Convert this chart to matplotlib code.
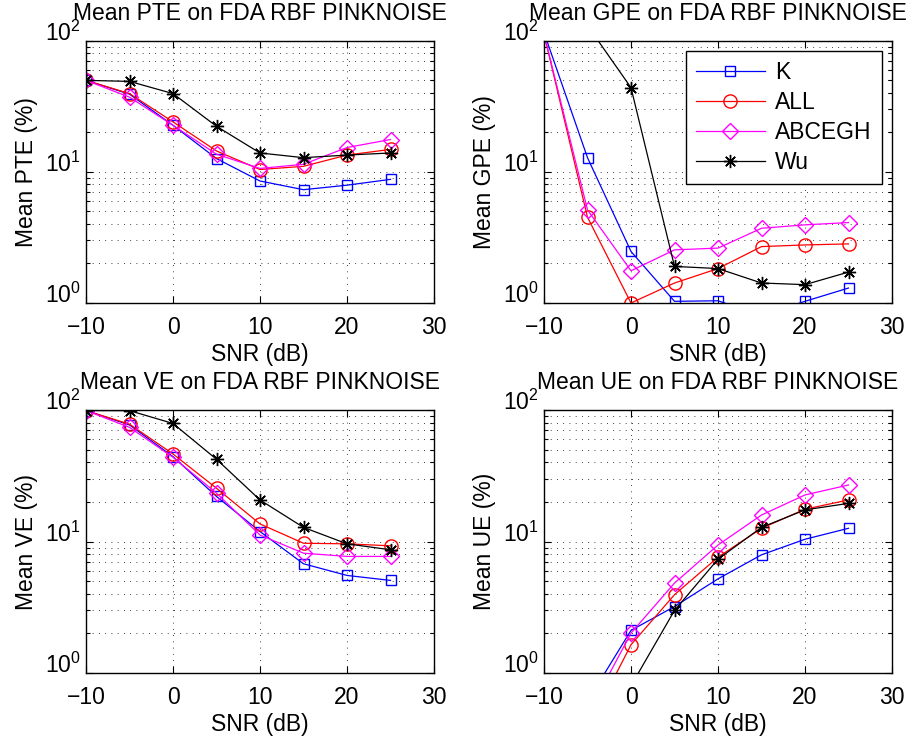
import matplotlib
matplotlib.use("Agg")
import matplotlib.pyplot as plt
from matplotlib.ticker import LogLocator, NullFormatter, FixedLocator

plt.rcParams['font.family'] = ['Liberation Sans', 'DejaVu Sans']
plt.rcParams['mathtext.fontset'] = 'custom'
plt.rcParams['mathtext.rm'] = 'Liberation Sans'
plt.rcParams['mathtext.it'] = 'Liberation Sans'

snr = [-10, -5, 0, 5, 10, 15, 20, 25]
methods = ["K", "ALL", "ABCEGH", "Wu"]

pte_k = [49.7, 39.0, 22.6, 12.6, 8.5, 7.3, 7.9, 8.75]
pte_all = [49.7, 39.4, 24.0, 14.4, 10.4, 11.0, 13.4, 14.8]
pte_abcegh = [49.7, 37.0, 22.6, 13.6, 10.6, 11.4, 15.3, 17.6]
pte_wu = [49.7, 48.8, 39.4, 22.2, 13.9, 12.8, 13.4, 13.9]

gpe_k = [115, 12.8, 2.47, 1.03, 1.04, 0.8, 1.03, 1.30]
gpe_all = [112, 4.5, 1.0, 1.42, 1.83, 2.69, 2.77, 2.82]
gpe_abcegh = [112, 5.12, 1.76, 2.54, 2.62, 3.71, 3.94, 4.1]
gpe_wu = [200, 130, 43.7, 1.90, 1.83, 1.42, 1.38, 1.72]

ve_k = [99, 77, 44.2, 22.0, 11.9, 6.77, 5.52, 5.06]
ve_all = [99, 78, 46.3, 25.4, 13.6, 9.7, 9.6, 9.27]
ve_abcegh = [99, 73.8, 43.7, 23.3, 11.2, 8.15, 7.7, 7.7]
ve_wu = [99, 98.9, 79, 42.2, 20.7, 12.8, 9.6, 8.65]

ue_k = [0.2, 0.61, 2.11, 3.2, 5.2, 7.92, 10.4, 12.6]
ue_all = [0.1, 0.37, 1.64, 3.94, 7.6, 12.6, 17.6, 20.7]
ue_abcegh = [0.15, 0.48, 2.01, 4.83, 9.4, 15.9, 22.6, 26.9]
ue_wu = [0.05, 0.2, 0.8, 2.99, 7.34, 12.8, 17.4, 19.5]

titles = ["Mean PTE on FDA RBF PINKNOISE", "Mean GPE on FDA RBF PINKNOISE",
          "Mean VE on FDA RBF PINKNOISE", "Mean UE on FDA RBF PINKNOISE"]
ylabels = ["Mean PTE (%)", "Mean GPE (%)", "Mean VE (%)", "Mean UE (%)"]
xlabel = "SNR (dB)"
xticks = [-10, 0, 10, 20, 30]

panels = [
    [pte_k, pte_all, pte_abcegh, pte_wu],
    [gpe_k, gpe_all, gpe_abcegh, gpe_wu],
    [ve_k, ve_all, ve_abcegh, ve_wu],
    [ue_k, ue_all, ue_abcegh, ue_wu],
]

colors = ["#0000ff", "#ff0000", "#ff00ff", "#000000"]
markers = ["s", "o", "D", (8, 2, 0)]
msizes = [7.5, 9.5, 8.5, 9.5]

fig = plt.figure(figsize=(9.10, 7.38), dpi=100)
W, H = 910, 738
rects_px = [(86, 40.5, 434, 303), (544, 40.5, 892, 303),
            (86, 410, 434, 673), (544, 410, 892, 673)]

FS = 16.5
for i, (x0, y0, x1, y1) in enumerate(rects_px):
    ax = fig.add_axes([x0 / W, 1 - y1 / H, (x1 - x0) / W, (y1 - y0) / H])
    for j, series in enumerate(panels[i]):
        mk = markers[j]
        ax.plot(snr, series, color=colors[j], marker=mk, markersize=msizes[j],
                markerfacecolor='none', markeredgecolor=colors[j],
                markeredgewidth=1.0, linewidth=0.9, label=methods[j])
    ax.set_yscale('log')
    ax.set_xlim(-10, 30)
    ax.set_ylim(1, 100)
    ax.xaxis.set_major_locator(FixedLocator(xticks))
    ax.yaxis.set_major_locator(LogLocator(base=10, numticks=10))
    ax.yaxis.set_minor_locator(LogLocator(base=10, subs=range(2, 10), numticks=10))
    ax.yaxis.set_minor_formatter(NullFormatter())
    ax.tick_params(which='both', direction='in', top=True, right=True,
                   labelsize=FS, width=0.8, colors='black')
    ax.tick_params(which='major', length=5)
    ax.tick_params(which='minor', length=3)
    ax.tick_params(axis='x', which='major', pad=9)
    ax.tick_params(axis='y', which='major', pad=4)
    for lab in ax.get_yticklabels():
        lab.set_verticalalignment('baseline')
    ax.grid(True, which='major', axis='both', linestyle=(0, (1, 6.5)), color='black', linewidth=0.6)
    ax.grid(True, which='minor', axis='y', linestyle=(0, (1, 6.5)), color='black', linewidth=0.6)
    for s in ax.spines.values():
        s.set_linewidth(1.0)
    ax.set_title(titles[i], fontsize=FS, pad=15)
    ax.set_ylabel(ylabels[i], fontsize=FS, labelpad=5)
    ax.set_xlabel(xlabel, fontsize=FS, labelpad=3)
    if i == 1:
        leg = ax.legend(loc='upper right', fontsize=FS, handlelength=3.0,
                        fancybox=False, framealpha=1, edgecolor='black',
                        borderaxespad=0.45, labelspacing=0.3, handletextpad=0.45,
                        borderpad=0.45)
        leg.get_frame().set_linewidth(1.0)

fig.savefig("out.png", dpi=100)
